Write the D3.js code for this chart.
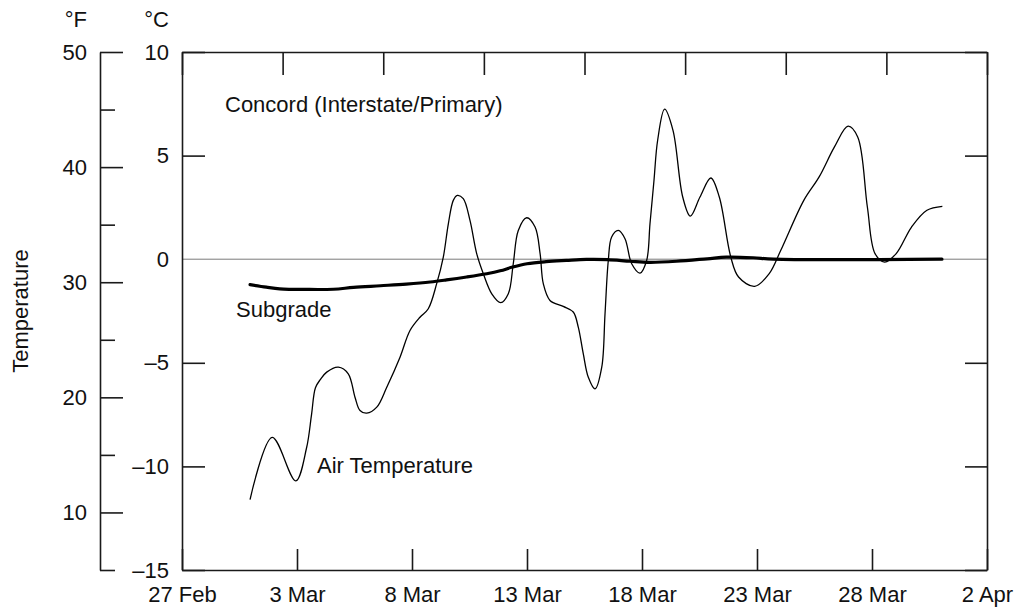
<!DOCTYPE html>
<html>
<head>
<meta charset="utf-8">
<script src="https://cdn.jsdelivr.net/npm/d3@7"></script>
<style>
  body { margin: 0; background: #fff; }
  svg { font-family: Arial, "Liberation Sans", Helvetica, sans-serif; }
</style>
</head>
<body>
<div id="root"></div>
<script>
// bottom axis dates (leap year, so 27 Feb -> 3 Mar is 5 days like the ticks)
const xTickDates = ["2000-02-27", "2000-03-03", "2000-03-08", "2000-03-13",
                    "2000-03-18", "2000-03-23", "2000-03-28", "2000-04-02"];
const topDivisions = 8;

const celsiusTicks = [10, 5, 0, -5, -10, -15];
const fahrenheitMajor = [10, 20, 30, 40, 50];
const fahrenheitMinor = [5, 15, 25, 35, 45];

// air temperature, degC
const airTimes = [
  "2000-02-29 23:00", "2000-03-01 22:10", "2000-03-02 22:40", "2000-03-03 10:00",
  "2000-03-03 15:10", "2000-03-03 19:15", "2000-03-04 00:30", "2000-03-04 07:00",
  "2000-03-04 19:10", "2000-03-05 05:30", "2000-03-05 12:30", "2000-03-05 17:45",
  "2000-03-06 00:45", "2000-03-06 11:15", "2000-03-06 21:40", "2000-03-07 11:30",
  "2000-03-07 21:55", "2000-03-08 08:20", "2000-03-08 17:00", "2000-03-09 01:45",
  "2000-03-09 08:40", "2000-03-09 13:55", "2000-03-09 19:05", "2000-03-09 23:15",
  "2000-03-10 05:30", "2000-03-10 12:30", "2000-03-10 19:30", "2000-03-11 02:25",
  "2000-03-11 11:15", "2000-03-11 20:35", "2000-03-12 04:30", "2000-03-12 09:40",
  "2000-03-12 14:55", "2000-03-12 23:40", "2000-03-13 08:25", "2000-03-13 13:40",
  "2000-03-13 17:00", "2000-03-14 00:00", "2000-03-14 13:50", "2000-03-15 00:15",
  "2000-03-15 05:30", "2000-03-15 10:45", "2000-03-15 16:00", "2000-03-15 23:00",
  "2000-03-16 06:00", "2000-03-16 09:25", "2000-03-16 12:50", "2000-03-16 16:20",
  "2000-03-16 23:15", "2000-03-17 06:15", "2000-03-17 13:15", "2000-03-17 21:55",
  "2000-03-18 04:50", "2000-03-18 08:20", "2000-03-18 12:30", "2000-03-18 16:20",
  "2000-03-18 23:35", "2000-03-19 08:20", "2000-03-19 18:30", "2000-03-20 02:25",
  "2000-03-20 12:30", "2000-03-20 23:50", "2000-03-21 08:40", "2000-03-21 20:40",
  "2000-03-22 04:45", "2000-03-22 21:35", "2000-03-23 12:45", "2000-03-24 00:50",
  "2000-03-25 00:50", "2000-03-25 16:50", "2000-03-26 08:50", "2000-03-26 23:00",
  "2000-03-27 09:05", "2000-03-27 19:10", "2000-03-28 03:10", "2000-03-28 13:10",
  "2000-03-29 01:15", "2000-03-29 17:15", "2000-03-30 09:20", "2000-03-31 01:25"
];
const airTemps = [
  -11.6, -8.6, -10.7, -9.1,
  -7.5, -6.2, -5.8, -5.45,
  -5.21, -5.53, -6.66, -7.3,
  -7.43, -7.14, -6.18, -4.73,
  -3.44, -2.8, -2.39, -1.18,
  0.1, 1.71, 2.84, 3.08,
  2.92, 1.87, 0.27, -0.7,
  -1.67, -2.1, -1.67, -0.22,
  1.39, 2.0, 1.55, 0.27,
  -1.18, -1.99, -2.28, -2.55,
  -3.28, -4.57, -5.7, -6.26,
  -5.21, -2.63, -0.06, 1.07,
  1.39, 0.99, -0.22, -0.67,
  -0.06, 1.71, 3.8, 5.74,
  7.24, 6.22, 3.0, 2.08,
  3.0, 3.92, 3.0, 0.1,
  -0.86, -1.31, -0.7, 0.43,
  2.84, 3.97, 5.42, 6.42,
  5.9, 2.52, 0.27, -0.14,
  0.27, 1.55, 2.36, 2.55
];

// subgrade temperature, degC
const subgradeTimes = [
  "2000-02-29 23:00", "2000-03-01 16:00", "2000-03-02 06:00", "2000-03-03 10:00",
  "2000-03-04 14:00", "2000-03-05 11:00", "2000-03-06 15:00", "2000-03-07 18:00",
  "2000-03-08 19:00", "2000-03-09 12:00", "2000-03-10 09:00", "2000-03-11 06:00",
  "2000-03-11 20:00", "2000-03-12 09:00", "2000-03-13 00:00", "2000-03-13 20:00",
  "2000-03-14 17:00", "2000-03-15 14:00", "2000-03-16 12:00", "2000-03-17 12:00",
  "2000-03-18 08:00", "2000-03-19 12:00", "2000-03-20 20:00", "2000-03-21 16:00",
  "2000-03-22 20:00", "2000-03-23 17:00", "2000-03-31 01:00"
];
const subgradeTemps = [
  -1.23, -1.35, -1.43, -1.46,
  -1.45, -1.36, -1.28, -1.2,
  -1.1, -1.0, -0.86, -0.7,
  -0.56, -0.38, -0.22, -0.12,
  -0.06, -0.01, -0.02, -0.1,
  -0.15, -0.1, 0.02, 0.1,
  0.07, 0, 0
];

const width = 1020, height = 611;
const margin = { top: 52, right: 33, bottom: 41, left: 182 };
const plotW = width - margin.left - margin.right;
const plotH = height - margin.top - margin.bottom;
const ink = "#1a1a1a";
const fontSize = 22;

const parseTime = d3.utcParse("%Y-%m-%d %H:%M");
const parseDay = d3.utcParse("%Y-%m-%d");
const tickDates = xTickDates.map(parseDay);

const air = airTimes.map((t, i) => ({ t: parseTime(t), v: airTemps[i] }));
const subgrade = subgradeTimes.map((t, i) => ({ t: parseTime(t), v: subgradeTemps[i] }));

const x = d3.scaleUtc().domain([tickDates[0], tickDates[tickDates.length - 1]]).range([0, plotW]);
const xTop = d3.scaleLinear().domain([0, topDivisions]).range([0, plotW]);
const y = d3.scaleLinear().domain([-15, 10]).range([plotH, 0]);
const yF = d3.scaleLinear().domain([5, 50]).range([plotH, 0]);

const svg = d3.select("#root").append("svg")
  .attr("width", width)
  .attr("height", height);

const g = svg.append("g").attr("transform", `translate(${margin.left},${margin.top})`);

// zero line
g.append("line")
  .attr("x1", 0).attr("x2", plotW)
  .attr("y1", y(0)).attr("y2", y(0))
  .attr("stroke", "#7a7a7a")
  .attr("stroke-width", 1);

// curves
const line = d3.line()
  .x(d => x(d.t))
  .y(d => y(d.v))
  .curve(d3.curveCatmullRom.alpha(0.5));

g.append("path").datum(air)
  .attr("fill", "none")
  .attr("stroke", "#000")
  .attr("stroke-width", 1.3)
  .attr("d", line);

g.append("path").datum(subgrade)
  .attr("fill", "none")
  .attr("stroke", "#000")
  .attr("stroke-width", 3.2)
  .attr("stroke-linecap", "round")
  .attr("d", line);

// axes
function styleAxis(sel) {
  sel.selectAll(".domain").attr("stroke", ink).attr("stroke-width", 1.6);
  sel.selectAll(".tick line").attr("stroke", ink).attr("stroke-width", 1.6);
  sel.selectAll("text").attr("font-size", fontSize).attr("fill", "#111").attr("font-family", null);
}

g.append("g")
  .attr("transform", `translate(0,${plotH})`)
  .call(d3.axisBottom(x).tickValues(tickDates).tickFormat(d3.utcFormat("%-d %b"))
    .tickSizeInner(-21).tickSizeOuter(0).tickPadding(16))
  .call(styleAxis);

g.append("g")
  .call(d3.axisTop(xTop).ticks(topDivisions).tickFormat("").tickSizeInner(-23).tickSizeOuter(0))
  .call(styleAxis);

const leftAxis = g.append("g")
  .call(d3.axisLeft(y).tickValues(celsiusTicks).tickFormat(d => d < 0 ? "\u2013" + Math.abs(d) : d)
    .tickSizeInner(-23).tickSizeOuter(0).tickPadding(13))
  .call(styleAxis);
leftAxis.selectAll(".tick").filter(d => d === 0).select("line").remove();

const rightAxis = g.append("g")
  .attr("transform", `translate(${plotW},0)`)
  .call(d3.axisRight(y).tickValues(celsiusTicks).tickFormat("").tickSizeInner(-22).tickSizeOuter(0))
  .call(styleAxis);
rightAxis.selectAll(".tick").filter(d => d === 0).select("line").remove();

// Fahrenheit scale off to the left
const fOffset = -82;
g.append("g")
  .attr("transform", `translate(${fOffset},0)`)
  .call(d3.axisLeft(yF).tickValues(fahrenheitMajor).tickSizeInner(-23).tickSizeOuter(0).tickPadding(13))
  .call(styleAxis);

const fMinor = g.append("g")
  .attr("transform", `translate(${fOffset},0)`)
  .call(d3.axisLeft(yF).tickValues(fahrenheitMinor).tickFormat("").tickSizeInner(-15).tickSizeOuter(0))
  .call(styleAxis);
fMinor.select(".domain").remove();

// unit headers
svg.append("text")
  .attr("x", margin.left + fOffset - 13).attr("y", 27)
  .attr("text-anchor", "end").attr("font-size", fontSize).attr("fill", "#111")
  .text("\u00b0F");
svg.append("text")
  .attr("x", margin.left - 13).attr("y", 27)
  .attr("text-anchor", "end").attr("font-size", fontSize).attr("fill", "#111")
  .text("\u00b0C");

svg.append("text")
  .attr("transform", `translate(28,${margin.top + plotH / 2}) rotate(-90)`)
  .attr("text-anchor", "middle").attr("font-size", fontSize).attr("fill", "#111")
  .text("Temperature");

// annotations
const notes = [
  { text: "Concord (Interstate/Primary)", x: 225, y: 112 },
  { text: "Subgrade", x: 236, y: 317 },
  { text: "Air Temperature", x: 317, y: 473 }
];
svg.selectAll(".note").data(notes).enter().append("text")
  .attr("class", "note")
  .attr("x", d => d.x).attr("y", d => d.y)
  .attr("font-size", fontSize).attr("fill", "#111")
  .text(d => d.text);
</script>
</body>
</html>
